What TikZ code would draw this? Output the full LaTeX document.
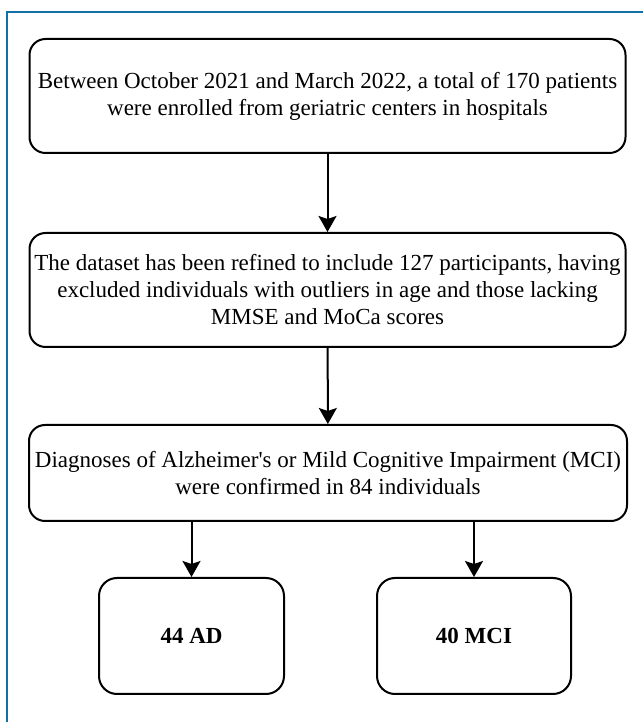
\documentclass[tikz,border=0pt]{standalone}
\usepackage{fontspec}
\setmainfont{Liberation Serif}
\usepackage{tikz}
\usetikzlibrary{arrows.meta,positioning}
\definecolor{frameblue}{RGB}{18,112,166}
\tikzset{
  flowbox/.style={draw=black, line width=1pt, rounded corners=8pt, align=center,
    inner sep=0pt, font=\fontsize{11.5}{13.5}\selectfont},
  flowarrow/.style={line width=1pt, -{Stealth[length=8pt,width=9pt,inset=1.5pt]}}
}

\begin{document}
\begin{tikzpicture}[x=0.5pt,y=0.5pt]
        \useasboundingbox (0,0) rectangle (643,722);
        % frame
        \draw[frameblue, line width=1.2pt] (7,0) -- (7,710) -- (643,710);
        % main boxes
        \node[flowbox, minimum width=298pt, minimum height=57pt] (enrol) at (327.5,626)
          {Between October 2021 and March 2022, a total of 170 patients\\
           were enrolled from geriatric centers in hospitals};
        \node[flowbox, minimum width=298pt, minimum height=57pt] (refine) at (327.5,432)
          {The dataset has been refined to include 127 participants, having\\
           excluded individuals with outliers in age and those lacking\\
           MMSE and MoCa scores};
        \node[flowbox, minimum width=299pt, minimum height=48pt] (diag) at (328,249)
          {Diagnoses of Alzheimer\textquotesingle s or Mild Cognitive Impairment (MCI)\\
           were confirmed in 84 individuals};
        % groups
        \node[flowbox, rounded corners=9pt, minimum width=92.5pt, minimum height=58pt,
          font=\fontsize{11.5}{13.5}\selectfont\bfseries] (ad) at (191.5,86) {44 AD};
        \node[flowbox, rounded corners=9pt, minimum width=97pt, minimum height=58pt,
          font=\fontsize{11.5}{13.5}\selectfont\bfseries] (mci) at (474,86) {40 MCI};
        % arrows
        \draw[flowarrow] (enrol) -- (refine);
        \draw[flowarrow] (refine) -- (diag);
        \draw[flowarrow] (diag.south -| ad.north) -- (ad);
        \draw[flowarrow] (diag.south -| mci.north) -- (mci);
      \end{tikzpicture}
\end{document}
